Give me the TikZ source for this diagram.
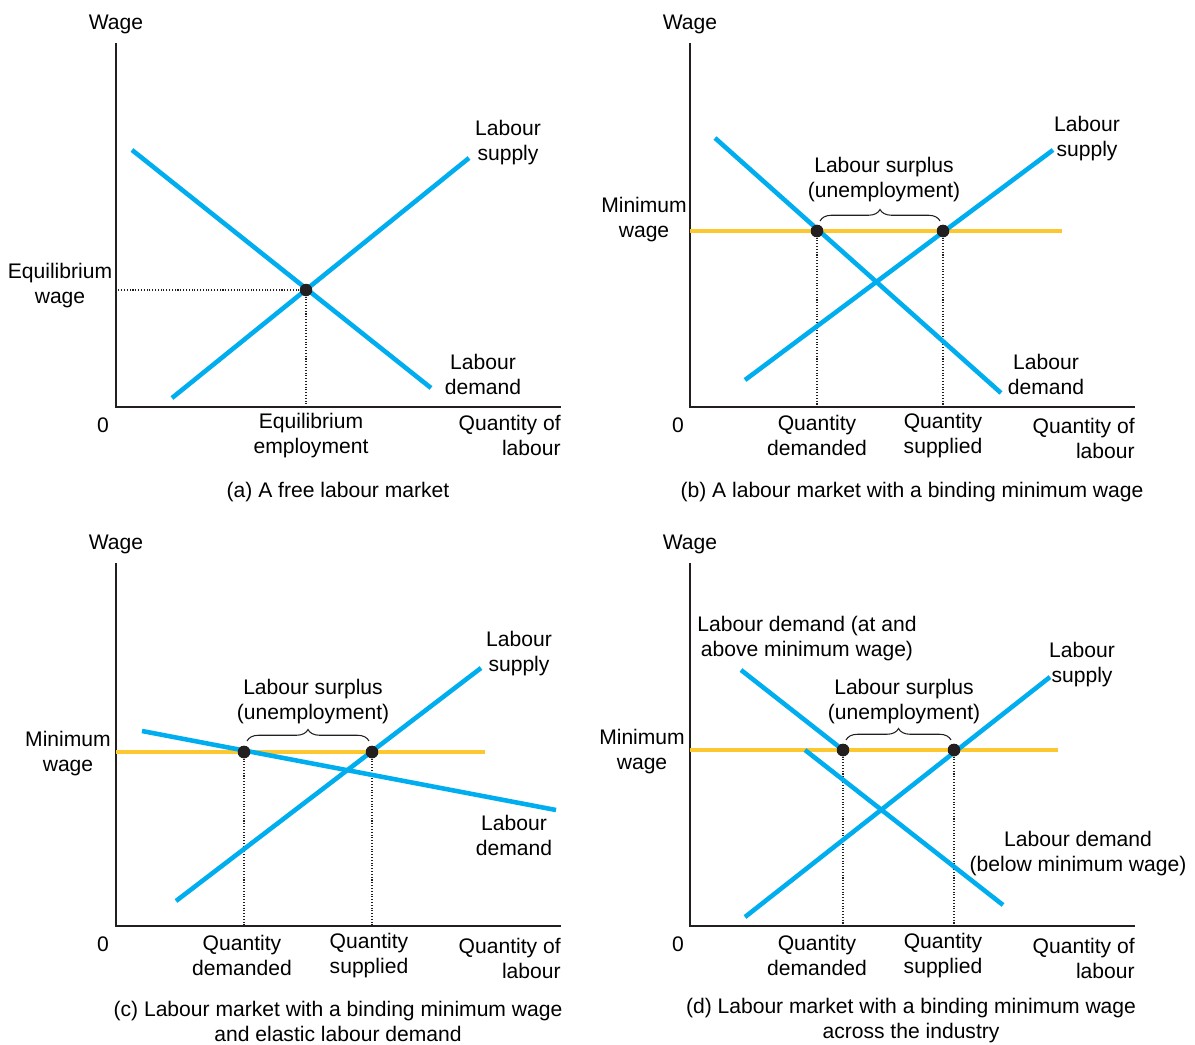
\documentclass[tikz,border=0pt]{standalone}
\usepackage{fontspec}
\setmainfont{Liberation Sans}
\usetikzlibrary{positioning,calc,decorations.pathreplacing}
\definecolor{curveblue}{RGB}{0,174,239}
\definecolor{wageyellow}{RGB}{253,200,47}
\definecolor{ink}{RGB}{35,31,32}
\tikzset{
  axis/.style={draw=ink,line width=0.8pt},
  curve/.style={draw=curveblue,line width=2.6pt},
  minw/.style={draw=wageyellow,line width=2.6pt},
  guide/.style={draw=ink,densely dotted,line width=0.6pt},
  dot/.style={circle,fill=ink,inner sep=0pt,minimum size=0.25cm},
  lbl/.style={align=center,font=\fontsize{12}{14.2}\selectfont,inner sep=0pt,yshift=-1pt},
  qlbl/.style={lbl,align=right,anchor=east},
  gap/.style={draw=ink,line width=0.6pt,decorate,decoration={brace,amplitude=0.23cm}}
}
\begin{document}
\begin{tikzpicture}[x=0.02cm,y=-0.02cm]
\useasboundingbox (0,0) rectangle (1195,1044);
% (a)
\coordinate(oa) at (116,407);\coordinate(ta) at (116,43);\coordinate(xa) at (561,407);
\draw[axis](ta)--(oa)--(xa);
\coordinate(da1) at (132,150);\coordinate(da2) at (431,388);
\coordinate(sa1) at (172,398);\coordinate(sa2) at (469,158);
\draw[curve](da1)--(da2);\draw[curve](sa1)--(sa2);
\node[dot](ea) at (306,290){};
\draw[guide](ea)--(ea -| oa);\draw[guide](ea)--(ea |- oa);
\node[lbl,above=0.21cm of ta](wa){Wage};
\node[lbl](ewa) at (60,284){Equilibrium\\wage};
\node[lbl](lsa) at (508,141){Labour\\supply};
\node[lbl](lda) at (483,373){Labour\\demand};
\node[lbl](za) at (103,423){0};
\node[lbl](eea) at (311,434){Equilibrium\\employment};
\node[qlbl](qa) at (561,434){Quantity of\\labour};
\node[lbl](capa) at (338,490){(a) A free labour market};
% (b)
\coordinate(ob) at (690,407);\coordinate(tb) at (690,43);\coordinate(xb) at (1135,407);
\draw[axis](tb)--(ob)--(xb);
\coordinate(mb1) at (690,231);\coordinate(mb2) at (1062,231);
\coordinate(db1) at (715,138);\coordinate(db2) at (1001,393);
\coordinate(sb1) at (745,380);\coordinate(sb2) at (1053,150);
\node[dot](qdb) at (817,231){};\node[dot](qsb) at (943,231){};
\draw[guide](qdb)--(qdb |- ob);\draw[guide](qsb)--(qsb |- ob);
\draw[minw](mb1)--(mb2);
\draw[curve](db1)--(db2);\draw[curve](sb1)--(sb2);
\node[dot] at (qdb){};\node[dot] at (qsb){};
\draw[gap]($(qdb)+(3,-10)$)--($(qsb)+(-3,-10)$);
\node[lbl,above=0.21cm of tb](wb){Wage};
\node[lbl](mwb) at (644,218){Minimum\\wage};
\node[lbl](usb) at (884,178){Labour surplus\\(unemployment)};
\node[lbl](lsb) at (1087,137){Labour\\supply};
\node[lbl](ldb) at (1046,373){Labour\\demand};
\node[lbl](zb) at (678,423){0};
\node[lbl](qdlb) at (817,434){Quantity\\demanded};
\node[lbl](qslb) at (943,434){Quantity\\supplied};
\node[qlbl](qb) at (1135,437){Quantity of\\labour};
\node[lbl](capb) at (912,490){(b) A labour market with a binding minimum wage};
% (c)
\coordinate(oc) at (116,926);\coordinate(tc) at (116,563);\coordinate(xc) at (561,926);
\draw[axis](tc)--(oc)--(xc);
\coordinate(mc1) at (116,752);\coordinate(mc2) at (485,752);
\coordinate(dc1) at (142,731);\coordinate(dc2) at (556,810);
\coordinate(sc1) at (176,901);\coordinate(sc2) at (481,668);
\node[dot](qdc) at (244,752){};\node[dot](qsc) at (372,752){};
\draw[guide](qdc)--(qdc |- oc);\draw[guide](qsc)--(qsc |- oc);
\draw[minw](mc1)--(mc2);
\draw[curve](dc1)--(dc2);\draw[curve](sc1)--(sc2);
\node[dot] at (qdc){};\node[dot] at (qsc){};
\draw[gap]($(qdc)+(3,-11)$)--($(qsc)+(-3,-11)$);
\node[lbl,above=0.21cm of tc](wc){Wage};
\node[lbl](mwc) at (68,752){Minimum\\wage};
\node[lbl](usc) at (313,700){Labour surplus\\(unemployment)};
\node[lbl](lsc) at (519,652){Labour\\supply};
\node[lbl](ldc) at (514,834){Labour\\demand};
\node[lbl](zc) at (103,942){0};
\node[lbl](qdlc) at (242,954){Quantity\\demanded};
\node[lbl](qslc) at (369,954){Quantity\\supplied};
\node[qlbl](qc) at (561,957){Quantity of\\labour};
\node[lbl](capc) at (338,1020){(c) Labour market with a binding minimum wage\\and elastic labour demand};
% (d)
\coordinate(od) at (690,926);\coordinate(td) at (690,563);\coordinate(xd) at (1135,926);
\draw[axis](td)--(od)--(xd);
\coordinate(md1) at (690,750);\coordinate(md2) at (1058,750);
\coordinate(dd1) at (741,670);\coordinate(dd2) at (805,750);\coordinate(dd3) at (1003,905);
\coordinate(sd1) at (745,917);\coordinate(sd2) at (1050,677);
\node[dot](qdd) at (843,750){};\node[dot](qsd) at (954,750){};
\draw[guide](qdd)--(qdd |- od);\draw[guide](qsd)--(qsd |- od);
\draw[minw](md1)--(md2);
\draw[curve](dd1)--(qdd.center);\draw[curve](dd2)--(dd3);\draw[curve](sd1)--(sd2);
\node[dot] at (qdd){};\node[dot] at (qsd){};
\draw[gap]($(qdd)+(3,-10)$)--($(qsd)+(-3,-10)$);
\node[lbl,above=0.21cm of td](wd){Wage};
\node[lbl](mwd) at (642,750){Minimum\\wage};
\node[lbl](ldad) at (807,637){Labour demand (at and\\above minimum wage)};
\node[lbl](usd) at (904,700){Labour surplus\\(unemployment)};
\node[lbl](lsd) at (1082,663){Labour\\supply};
\node[lbl](ldbd) at (1078,852){Labour demand\\(below minimum wage)};
\node[lbl](zd) at (678,942){0};
\node[lbl](qdld) at (817,954){Quantity\\demanded};
\node[lbl](qsld) at (943,954){Quantity\\supplied};
\node[qlbl](qd) at (1135,957){Quantity of\\labour};
\node[lbl](capd) at (911,1019){(d) Labour market with a binding minimum wage\\across the industry};
\end{tikzpicture}
\end{document}
